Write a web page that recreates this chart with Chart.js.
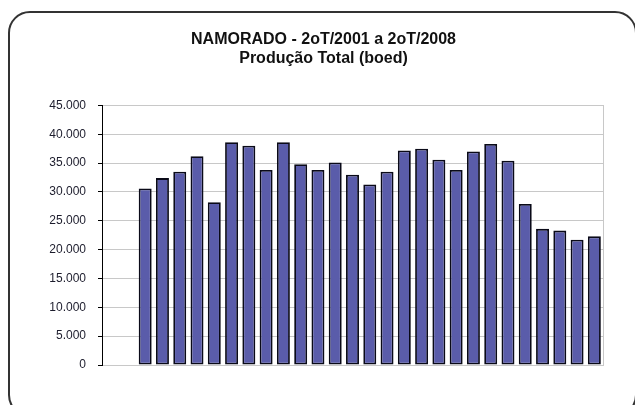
<!DOCTYPE html>
<html>
<head>
<meta charset="utf-8">
<script src="https://cdn.jsdelivr.net/npm/chart.js@4/dist/chart.umd.min.js"></script>
<style>
  html, body { margin: 0; padding: 0; background: #fff; overflow: hidden; }
  #wrap { position: relative; width: 635px; height: 405px; overflow: hidden; }
  #frame {
    position: absolute; left: 8px; top: 11px; width: 629px; height: 406px;
    border: 2px solid #333; border-radius: 22px; box-sizing: border-box;
  }
  canvas { position: absolute; left: 0; top: 0; }
</style>
</head>
<body>
<div id="wrap">
  <div id="frame"></div>
  <canvas id="chart" width="635" height="405"></canvas>
</div>
<script>
// trimestres 2T/2001 .. 2T/2008
const quarters = [
  '2T01', '3T01', '4T01',
  '1T02', '2T02', '3T02', '4T02',
  '1T03', '2T03', '3T03', '4T03',
  '1T04', '2T04', '3T04', '4T04',
  '1T05', '2T05', '3T05', '4T05',
  '1T06', '2T06', '3T06', '4T06',
  '1T07', '2T07', '3T07', '4T07',
  '1T08', '2T08'
];

// produção total (boed) por trimestre
const production = [
  null, null, 30600, 32400, 33500, 36200, 28200, 38600, 38000, 33800,
  38600, 34800, 33800, 35100, 33000, 31300, 33500, 37200, 37500, 35600,
  33800, 37000, 38300, 35400, 27900, 23600, 23300, 21700, 22300
];

const yTicks = [0, 5000, 10000, 15000, 20000, 25000, 30000, 35000, 40000, 45000];

const titleLines = ['NAMORADO - 2oT/2001 a 2oT/2008', 'Produção Total (boed)'];

// moldura cinza da área de plotagem
const plotFrame = {
  id: 'plotFrame',
  beforeDraw(chart) {
    const { ctx, chartArea: a } = chart;
    ctx.save();
    ctx.strokeStyle = '#c8c8c8';
    ctx.lineWidth = 1;
    ctx.strokeRect(Math.round(a.left) + 0.5, Math.round(a.top) + 0.5,
      Math.round(a.right - a.left), Math.round(a.bottom - a.top));
    ctx.restore();
  }
};

const fmt = v => v === 0 ? '0' : v.toLocaleString('pt-BR');

new Chart(document.getElementById('chart'), {
  type: 'bar',
  data: {
    labels: quarters,
    datasets: [{
      data: production,
      backgroundColor: '#5a5caa',
      borderColor: '#0a0a18',
      borderWidth: 1.8,
      borderSkipped: false,
      barPercentage: 0.75,
      categoryPercentage: 1
    }]
  },
  options: {
    responsive: false,
    animation: false,
    layout: { padding: { left: 44, right: 32, top: 0, bottom: 40 } },
    plugins: {
      legend: { display: false },
      tooltip: { enabled: false },
      title: {
        display: true,
        text: titleLines,
        color: '#111',
        font: { family: '"Liberation Sans", Arial, sans-serif', size: 16, weight: 'bold', lineHeight: 1.2 },
        padding: { top: 30, bottom: 37 }
      }
    },
    scales: {
      x: {
        grid: { display: false, drawTicks: false },
        border: { color: '#c8c8c8', width: 1 },
        ticks: { display: false },
        afterFit: s => { s.height = 0; }
      },
      y: {
        min: 0,
        max: 45000,
        afterBuildTicks: s => { s.ticks = yTicks.map(v => ({ value: v })); },
        afterFit: s => { s.width = 58; },
        grid: { color: '#c8c8c8', lineWidth: 1, tickLength: 4, tickColor: '#000' },
        border: { color: '#000', width: 1 },
        ticks: {
          padding: 12,
          color: '#1c1c2c',
          font: { family: '"Liberation Sans", Arial, sans-serif', size: 12 },
          callback: v => fmt(v)
        }
      }
    }
  },
  plugins: [plotFrame]
});
</script>
</body>
</html>
